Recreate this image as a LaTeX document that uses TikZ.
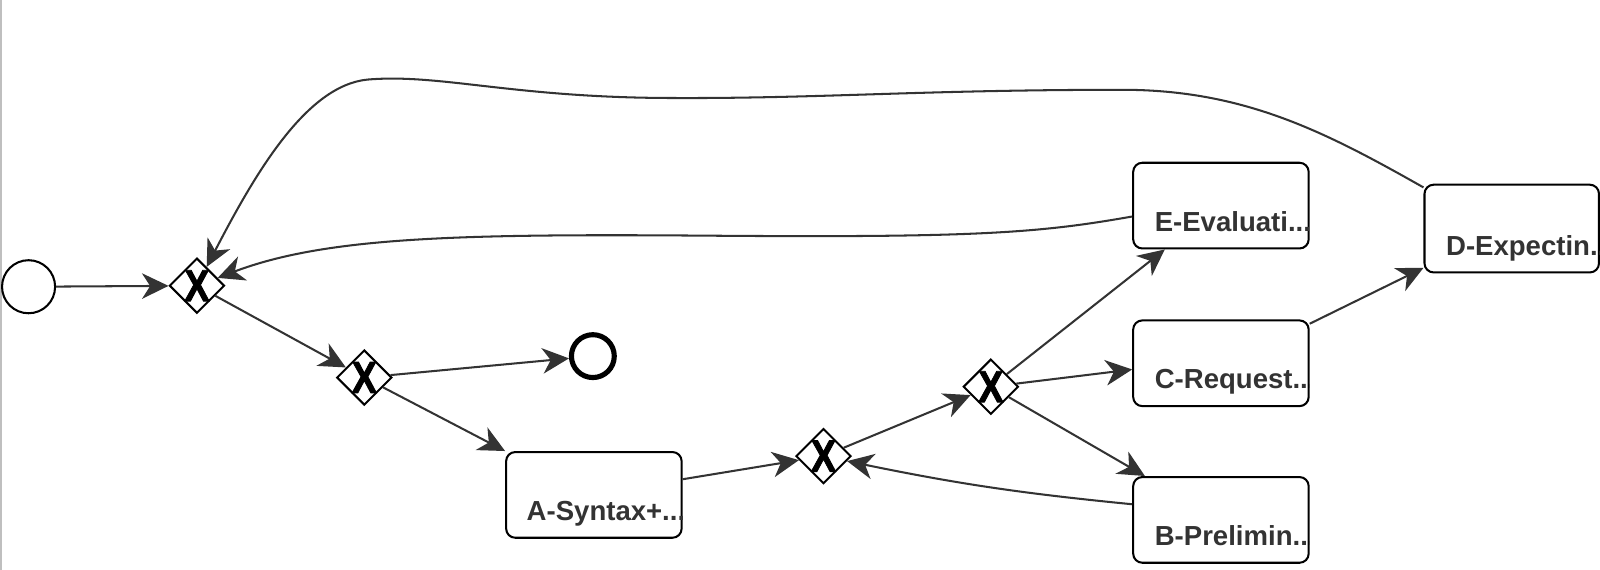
\documentclass[tikz,border=0pt]{standalone}
\usepackage{fontspec}
\setmainfont{Liberation Sans}
\newfontfamily\xfont[FakeBold=2]{Liberation Sans Bold}
\usetikzlibrary{shapes.geometric,arrows.meta,calc}
\definecolor{flowc}{HTML}{333333}
\begin{document}
\begin{tikzpicture}[x=1pt,y=-1pt,
  flow/.style={draw=flowc, line width=2pt, -{Stealth[length=26pt,width=25pt,inset=8pt]}},
  task/.style={draw=black, line width=2pt, rounded corners=9pt, minimum width=172pt, minimum height=84pt, inner sep=0pt, fill=white},
  tasktext/.style={anchor=base west, inner sep=0pt, text=flowc, font=\fontsize{27}{30}\selectfont\bfseries},
  gw/.style={diamond, draw=black, line width=2pt, fill=white, minimum width=54pt, minimum height=54pt, inner sep=0pt,
     label={[inner sep=0pt, font=\fontsize{44}{44}\selectfont\xfont]center:\scalebox{0.84}[1]{X}}},
  ev/.style={circle, draw=black, fill=white, inner sep=0pt}]
\useasboundingbox (0,0) rectangle (1568,558.6);
\draw[color=black!25, line width=1.5pt] (0.75,0) -- (0.75,558.6);

\node[ev, line width=2pt, minimum size=52pt] (S) at (28,281) {};
\node[gw] (G1) at (193,280) {};
\node[gw] (G2) at (357,370) {};
\node[ev, line width=5pt, minimum size=42pt] (End) at (581,349) {};
\node[task] (A) at (582,485) {};
\node[gw] (G3) at (807,447) {};
\node[gw] (G4) at (971,379) {};
\node[task] (E) at (1196.5,201.5) {};
\node[task] (C) at (1196.5,356) {};
\node[task] (B) at (1196.5,509.5) {};
\node[task, minimum width=171pt, minimum height=86pt] (D) at (1481.5,224) {};

\begin{scope}\clip (A.south west) rectangle (A.north east);
\node[tasktext] (At) at ($(A.south west)+(21,-18)$) {A-Syntax+...};\end{scope}
\begin{scope}\clip (E.south west) rectangle (E.north east);
\node[tasktext] (Et) at ($(E.south west)+(22,-18)$) {E-Evaluati...};\end{scope}
\begin{scope}\clip (C.south west) rectangle (C.north east);
\node[tasktext] (Ct) at ($(C.south west)+(22,-18)$) {C-Request...};\end{scope}
\begin{scope}\clip (B.south west) rectangle (B.north east);
\node[tasktext] (Bt) at ($(B.south west)+(22,-18)$) {B-Prelimin...};\end{scope}
\begin{scope}\clip (D.south west) rectangle (D.north east);
\node[tasktext] (Dt) at ($(D.south west)+(22,-18)$) {D-Expectin...};\end{scope}

\draw[flow] (S) -- (G1);
\draw[flow] (G1) -- (G2);
\draw[flow] (G2) -- (End);
\draw[flow] (G2) -- (A.north west);
\draw[flow] (A.10) -- (G3);
\draw[flow] (G3) -- (G4);
\draw[flow] (G4) -- (E.218);
\draw[flow] (G4) -- (C.184);
\draw[flow] (G4) -- (B.150);
\draw[flow] (B.170) to[bend left=3] (G3);
\draw[flow] (C.24) -- (D.204);
\draw[flow] (E.187) .. controls (1020,228) and (960,233) .. (700,231) .. controls (450,229) and (320,232) .. (G1);
\draw[flow] (D.155) .. controls (1300,130) and (1220,88) .. (1100,88) .. controls (900,88) and (800,97) .. (650,96) .. controls (500,95) and (430,72) .. (360,78) .. controls (300,84) and (250,170) .. (G1);
\end{tikzpicture}
\end{document}
